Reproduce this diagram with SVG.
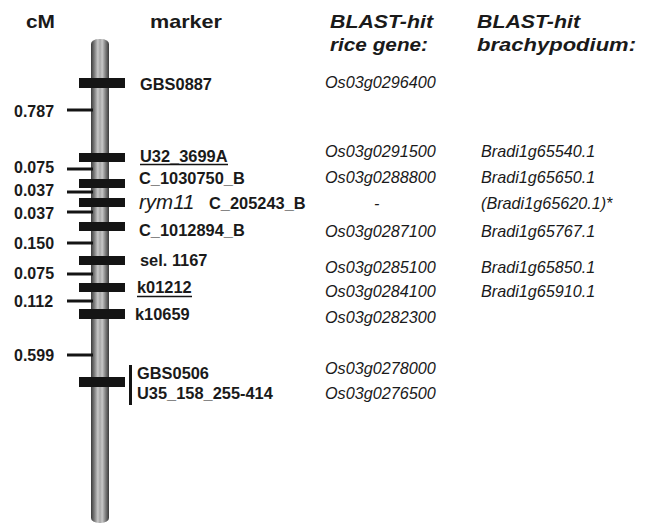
<svg xmlns="http://www.w3.org/2000/svg" width="647" height="523" viewBox="0 0 647 523">
<defs>
<linearGradient id="chromGrad" x1="0" y1="0" x2="1" y2="0">
<stop offset="0" stop-color="#3a3a3a"/>
<stop offset="0.18" stop-color="#7a7a7a"/>
<stop offset="0.38" stop-color="#c8c8c8"/>
<stop offset="0.5" stop-color="#a6a6a6"/>
<stop offset="0.62" stop-color="#c8c8c8"/>
<stop offset="0.82" stop-color="#7a7a7a"/>
<stop offset="1" stop-color="#3a3a3a"/>
</linearGradient>
<style>
.hd{font-family:"Liberation Sans",Arial,sans-serif;font-weight:bold;font-size:18.5px;fill:#1a1a1a}
.hdi{font-family:"Liberation Sans",Arial,sans-serif;font-weight:bold;font-style:italic;font-size:18.5px;fill:#1a1a1a}
.mk{font-family:"Liberation Sans",Arial,sans-serif;font-weight:bold;font-size:16.4px;fill:#1a1a1a}
.cm{font-family:"Liberation Sans",Arial,sans-serif;font-weight:bold;font-size:16px;fill:#1a1a1a}
.gn{font-family:"Liberation Sans",Arial,sans-serif;font-style:italic;font-size:16.2px;fill:#1a1a1a}
.gene{font-family:"Liberation Sans",Arial,sans-serif;font-style:italic;font-size:20.5px;fill:#1a1a1a}
.bar{fill:#141414}
.tick{stroke:#141414;stroke-width:3}
.ul{stroke:#141414;stroke-width:1.5}
</style>
</defs>
<rect width="647" height="523" fill="#ffffff"/>

<g id="headers">
<text class="hd" x="26" y="28" textLength="29" lengthAdjust="spacingAndGlyphs">cM</text>
<text class="hd" x="150" y="28" textLength="72" lengthAdjust="spacingAndGlyphs">marker</text>
<text class="hdi" x="330" y="28" textLength="103" lengthAdjust="spacingAndGlyphs">BLAST-hit</text>
<text class="hdi" x="330" y="51" textLength="98" lengthAdjust="spacingAndGlyphs">rice gene:</text>
<text class="hdi" x="477" y="28" textLength="103" lengthAdjust="spacingAndGlyphs">BLAST-hit</text>
<text class="hdi" x="477" y="51" textLength="159" lengthAdjust="spacingAndGlyphs">brachypodium:</text>
</g>

<g id="chromosome">
<rect x="91" y="39" width="18" height="484" rx="8" ry="5" fill="url(#chromGrad)"/>
</g>

<g id="connectors">
<line class="tick" x1="67" y1="110" x2="93" y2="110"/>
<line class="tick" x1="67" y1="169" x2="93" y2="169"/>
<line class="tick" x1="67" y1="192" x2="93" y2="192"/>
<line class="tick" x1="67" y1="212" x2="93" y2="212"/>
<line class="tick" x1="67" y1="243" x2="93" y2="243"/>
<line class="tick" x1="67" y1="274" x2="93" y2="274"/>
<line class="tick" x1="67" y1="301" x2="93" y2="301"/>
<line class="tick" x1="67" y1="355" x2="93" y2="355"/>
<line x1="130.5" y1="365" x2="130.5" y2="405" stroke="#141414" stroke-width="3"/>
</g>

<g id="distances">
<text class="cm" x="14" y="117">0.787</text>
<text class="cm" x="14" y="173">0.075</text>
<text class="cm" x="14" y="196">0.037</text>
<text class="cm" x="14" y="219">0.037</text>
<text class="cm" x="14" y="249">0.150</text>
<text class="cm" x="14" y="279">0.075</text>
<text class="cm" x="14" y="307">0.112</text>
<text class="cm" x="14" y="361">0.599</text>
</g>

<g id="m-GBS0887">
<rect class="bar" x="79" y="78" width="46" height="10"/>
<text class="mk" x="140" y="90">GBS0887</text>
<text class="gn" x="325" y="88">Os03g0296400</text>
</g>

<g id="m-U32_3699A">
<rect class="bar" x="79" y="153" width="46" height="9"/>
<text class="mk" x="140" y="162">U32_3699A</text>
<line class="ul" x1="140" y1="164.5" x2="228" y2="164.5"/>
<text class="gn" x="325" y="157">Os03g0291500</text>
<text class="gn" x="481" y="157">Bradi1g65540.1</text>
</g>

<g id="m-C_1030750_B">
<rect class="bar" x="79" y="179" width="46" height="9"/>
<text class="mk" x="139" y="184">C_1030750_B</text>
<text class="gn" x="325" y="183">Os03g0288800</text>
<text class="gn" x="481" y="183">Bradi1g65650.1</text>
</g>

<g id="m-rym11">
<rect class="bar" x="79" y="198" width="46" height="9"/>
<text class="gene" x="139" y="209">rym11</text>
<text class="mk" x="209" y="209">C_205243_B</text>
<text class="gn" x="374" y="209">-</text>
<text class="gn" x="481" y="209">(Bradi1g65620.1)*</text>
</g>

<g id="m-C_1012894_B">
<rect class="bar" x="79" y="222" width="46" height="9"/>
<text class="mk" x="139" y="236">C_1012894_B</text>
<text class="gn" x="325" y="237">Os03g0287100</text>
<text class="gn" x="481" y="237">Bradi1g65767.1</text>
</g>

<g id="m-sel1167">
<rect class="bar" x="79" y="256" width="46" height="9"/>
<text class="mk" x="140" y="266">sel. 1167</text>
<text class="gn" x="325" y="273">Os03g0285100</text>
<text class="gn" x="481" y="273">Bradi1g65850.1</text>
</g>

<g id="m-k01212">
<rect class="bar" x="79" y="283" width="46" height="9"/>
<text class="mk" x="137" y="293">k01212</text>
<line class="ul" x1="137" y1="296.5" x2="192" y2="296.5"/>
<text class="gn" x="325" y="297">Os03g0284100</text>
<text class="gn" x="481" y="297">Bradi1g65910.1</text>
</g>

<g id="m-k10659">
<rect class="bar" x="79" y="309" width="46" height="10"/>
<text class="mk" x="135" y="320">k10659</text>
<text class="gn" x="325" y="323">Os03g0282300</text>
</g>

<g id="m-GBS0506">
<rect class="bar" x="79" y="377" width="46" height="10"/>
<text class="mk" x="137" y="379">GBS0506</text>
<text class="mk" x="137" y="399">U35_158_255-414</text>
<text class="gn" x="325" y="374">Os03g0278000</text>
<text class="gn" x="325" y="399">Os03g0276500</text>
</g>
</svg>
